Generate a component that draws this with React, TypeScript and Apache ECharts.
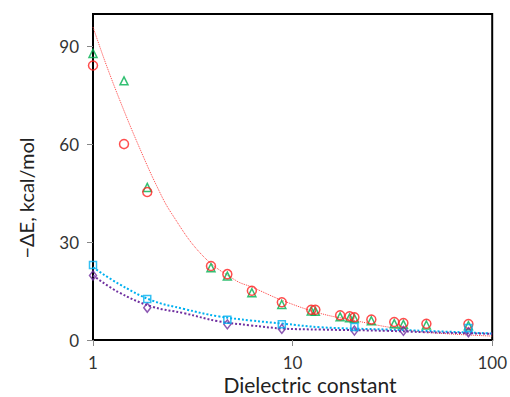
import React, { useEffect, useRef } from "react";
import * as echarts from "echarts";

const epsilon = [1, 1.43, 1.87, 3.9, 4.71, 6.25, 8.83, 12.4, 13.0, 17.3, 19.3, 20.4, 24.8, 32.3, 35.9, 46.8, 76.0];
const redCircles = [84.2, 60.1, 45.4, 22.7, 20.2, 15.1, 11.6, 9.3, 9.3, 7.6, 7.3, 7.0, 6.3, 5.5, 5.2, 5.0, 4.9];
const greenTriangles = [87.9, 79.5, 46.8, 22.2, 19.6, 14.5, 10.9, 8.9, 8.8, 7.1, 6.8, 6.6, 5.9, 5.0, 4.8, 4.6, 4.4];

const epsilonSmall = [1, 1.87, 4.71, 8.83, 20.4, 76.0];
const cyanSquares = [23.0, 12.6, 6.2, 4.8, 4.0, 3.7];
const epsilonPurple = [1, 1.87, 4.71, 8.83, 20.4, 35.9, 76.0];
const purpleDiamonds = [19.8, 9.9, 4.8, 3.4, 2.9, 2.8, 2.4];

const redFitX = [1, 1.17, 1.42, 1.72, 2.08, 2.47, 3.54, 5.18, 6.27, 9.0, 13.9, 20.4, 29.9, 46.3, 100];
const redFitY = [96.0, 84.1, 70.8, 58.6, 47.4, 38.9, 25.9, 18.3, 16.2, 12.0, 8.1, 6.0, 4.0, 2.4, 1.2];
const blueFitX = [1, 1.34, 1.96, 2.87, 4.2, 6.15, 9.0, 13.9, 29.9, 46.3, 100];
const cyanFitY = [22.3, 17.3, 12.2, 9.5, 7.3, 6.0, 5.0, 3.9, 3.2, 2.8, 2.0];
const purpleFitY = [19.8, 14.7, 10.3, 8.2, 5.8, 4.5, 3.5, 3.2, 2.8, 2.4, 1.9];

const xTicks = [1, 10, 100];
const yTicks = [0, 30, 60, 90];

const FONT = "Lato, 'Open Sans', sans-serif";

const zip = (xs: number[], ys: number[]) => xs.map((x, i) => [x, ys[i]]);

export default function App() {
  const ref = useRef<HTMLDivElement>(null);
  useEffect(() => {
    document.body.style.margin = "0";
    if (!ref.current) return;
    const chart = echarts.init(ref.current, undefined, { renderer: "svg" });
    const fit = (name: string, xs: number[], ys: number[], color: string, width: number) => ({
      name,
      type: "line",
      data: zip(xs, ys),
      smooth: 0.4,
      showSymbol: false,
      silent: true,
      z: 1,
      lineStyle: { color, width, type: "dotted" },
    });
    const scat = (name: string, xs: number[], ys: number[], symbol: string, size: any, color: string, z: number) => ({
      name,
      type: "scatter",
      data: zip(xs, ys),
      symbol,
      symbolSize: size,
      z,
      itemStyle: { color: "rgba(255,255,255,0)", borderColor: color, borderWidth: 1.5 },
    });
    chart.setOption({
      animation: false,
      grid: {
        left: 93,
        right: 14,
        top: 14,
        bottom: 57,
        show: true,
        borderColor: "#000",
        borderWidth: 2,
        backgroundColor: "transparent",
      },
      xAxis: {
        type: "log",
        logBase: 10,
        min: 1,
        max: 100,
        axisLine: { show: true, lineStyle: { color: "#000", width: 2 } },
        axisTick: { show: true, length: 6, lineStyle: { color: "#888" }, customValues: xTicks },
        minorTick: { show: false },
        splitLine: { show: false },
        axisLabel: { fontFamily: FONT, fontSize: 17, color: "#333", margin: 14, customValues: xTicks },
      },
      yAxis: {
        type: "value",
        min: 0,
        max: 100,
        interval: 30,
        axisLine: { show: true, lineStyle: { color: "#000", width: 2 } },
        axisTick: { show: true, length: 6, lineStyle: { color: "#888" }, customValues: yTicks },
        splitLine: { show: false },
        axisLabel: { fontFamily: FONT, fontSize: 17, color: "#333", margin: 14, customValues: yTicks },
      },
      graphic: [
        {
          type: "text",
          x: 26,
          y: 198,
          rotation: Math.PI / 2,
          style: {
            text: "\u2212\u0394E, kcal/mol",
            font: `20px ${FONT}`,
            fill: "#222",
            textAlign: "center",
            textVerticalAlign: "middle",
          },
        },
        {
          type: "text",
          x: 310,
          y: 384,
          style: {
            text: "Dielectric constant",
            font: `21px ${FONT}`,
            fill: "#222",
            textAlign: "center",
            textVerticalAlign: "middle",
          },
        },
      ],
      series: [
        fit("redFit", redFitX, redFitY, "#ff4040", 1),
        fit("cyanFit", blueFitX, cyanFitY, "#00b0f0", 2),
        fit("purpleFit", blueFitX, purpleFitY, "#7030a0", 2),
        scat("green", epsilon, greenTriangles, "triangle", 8, "#00b050", 3),
        scat("red", epsilon, redCircles, "circle", 9, "#ff2020", 4),
        scat("purple", epsilonPurple, purpleDiamonds, "diamond", [7, 9], "#7030a0", 5),
        scat("cyan", epsilonSmall, cyanSquares, "rect", 7, "#00b0f0", 6),
      ],
    });
    return () => chart.dispose();
  }, []);
  return <div ref={ref} style={{ width: 510, height: 397 }} />;
}
